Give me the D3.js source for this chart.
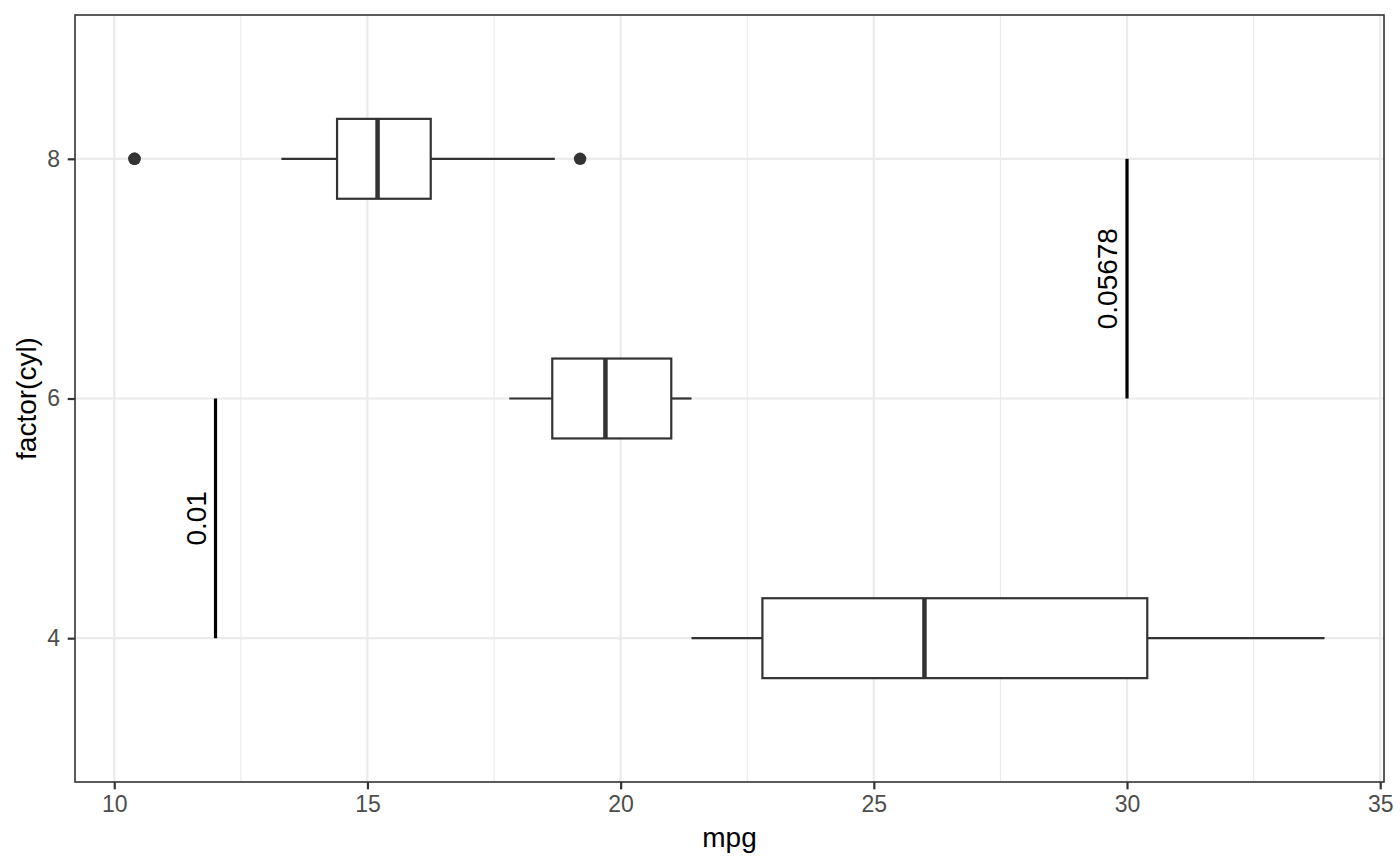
<!DOCTYPE html>
<html>
<head>
<meta charset="utf-8">
<script src="https://cdn.jsdelivr.net/npm/d3@7"></script>
<style>
  body { margin: 0; background: #fff; }
  text { font-family: "Liberation Sans", Arial, sans-serif; }
</style>
</head>
<body>
<div id="chart"></div>
<script>
// boxplot stats of mpg per cylinder group
var categories = ["4", "6", "8"];
var lowerWhisker = [21.4, 17.8, 13.3];
var q1 = [22.8, 18.65, 14.4];
var median = [26.0, 19.7, 15.2];
var q3 = [30.4, 21.0, 16.25];
var upperWhisker = [33.9, 21.4, 18.7];
var outliers = [[], [], [10.4, 10.4, 19.2]];

// annotation brackets
var annotX = [12, 30];
var annotFrom = ["6", "8"];
var annotTo = ["4", "6"];
var annotLabel = ["0.01", "0.05678"];

var xTicks = [10, 15, 20, 25, 30, 35];
var xMinor = [12.5, 17.5, 22.5, 27.5, 32.5];

function drawChart() {
    var width = 1400, height = 866;
    var margin = {left: 75, right: 16, top: 15, bottom: 84};
    var pw = width - margin.left - margin.right;
    var ph = height - margin.top - margin.bottom;

    var svg = d3.select("#chart").append("svg")
        .attr("width", width)
        .attr("height", height);

    var g = svg.append("g")
        .attr("transform", "translate(" + margin.left + "," + margin.top + ")");

    var x = d3.scaleLinear().domain([9.225, 35.075]).range([0, pw]);
    // discrete positions 1..3 with 0.6 expansion
    var yPos = d3.scaleLinear().domain([0.4, 3.6]).range([ph, 0]);
    var y = function(c) { return yPos(categories.indexOf(c) + 1); };
    var boxH = yPos(0) - yPos(1 / 3);

    // grid
    g.selectAll(".minor").data(xMinor).enter().append("line")
        .attr("x1", d => x(d)).attr("x2", d => x(d))
        .attr("y1", 0).attr("y2", ph)
        .style("stroke", "#ebebeb").style("stroke-width", 1.1);
    g.selectAll(".major").data(xTicks).enter().append("line")
        .attr("x1", d => x(d)).attr("x2", d => x(d))
        .attr("y1", 0).attr("y2", ph)
        .style("stroke", "#ebebeb").style("stroke-width", 2.2);
    g.selectAll(".hmajor").data(categories).enter().append("line")
        .attr("x1", 0).attr("x2", pw)
        .attr("y1", d => y(d)).attr("y2", d => y(d))
        .style("stroke", "#ebebeb").style("stroke-width", 2.2);

    // boxplots
    var boxes = g.selectAll(".box").data(categories).enter().append("g");

    boxes.append("line")
        .attr("x1", (d, i) => x(lowerWhisker[i])).attr("x2", (d, i) => x(q1[i]))
        .attr("y1", d => y(d)).attr("y2", d => y(d))
        .style("stroke", "#333").style("stroke-width", 2.2);
    boxes.append("line")
        .attr("x1", (d, i) => x(q3[i])).attr("x2", (d, i) => x(upperWhisker[i]))
        .attr("y1", d => y(d)).attr("y2", d => y(d))
        .style("stroke", "#333").style("stroke-width", 2.2);
    boxes.append("rect")
        .attr("x", (d, i) => x(q1[i]))
        .attr("width", (d, i) => x(q3[i]) - x(q1[i]))
        .attr("y", d => y(d) - boxH / 2)
        .attr("height", boxH)
        .style("fill", "#fff").style("stroke", "#333").style("stroke-width", 2.2);
    boxes.append("line")
        .attr("x1", (d, i) => x(median[i])).attr("x2", (d, i) => x(median[i]))
        .attr("y1", d => y(d) - boxH / 2).attr("y2", d => y(d) + boxH / 2)
        .style("stroke", "#333").style("stroke-width", 4.5);
    boxes.each(function(d, i) {
        d3.select(this).selectAll("circle").data(outliers[i]).enter().append("circle")
            .attr("cx", v => x(v)).attr("cy", y(d)).attr("r", 6.2)
            .style("fill", "#333");
    });

    // annotations
    var ann = g.selectAll(".ann").data(annotLabel).enter().append("g");
    ann.append("line")
        .attr("x1", (d, i) => x(annotX[i])).attr("x2", (d, i) => x(annotX[i]))
        .attr("y1", (d, i) => y(annotFrom[i])).attr("y2", (d, i) => y(annotTo[i]))
        .style("stroke", "#000").style("stroke-width", 3.2);
    ann.append("text")
        .attr("transform", (d, i) => "translate(" + (x(annotX[i]) - 10) + "," +
            ((y(annotFrom[i]) + y(annotTo[i])) / 2) + ") rotate(-90)")
        .attr("text-anchor", "middle")
        .style("font-size", "28px").style("fill", "#000")
        .text(d => d);

    // panel border
    g.append("rect")
        .attr("width", pw).attr("height", ph)
        .style("fill", "none").style("stroke", "#333").style("stroke-width", 1.6);

    // axes
    var xAxis = g.append("g")
        .attr("transform", "translate(0," + ph + ")")
        .call(d3.axisBottom(x).tickValues(xTicks).tickSize(7.3).tickPadding(6.7));
    var yAxis = g.append("g")
        .call(d3.axisLeft(yPos).tickValues([1, 2, 3])
            .tickFormat(d => categories[d - 1]).tickSize(7.3).tickPadding(7.7));

    [xAxis, yAxis].forEach(function(a) {
        a.select(".domain").remove();
        a.selectAll(".tick line").style("stroke", "#333").style("stroke-width", 2.2);
        a.selectAll(".tick text")
            .style("font-size", "23px").style("fill", "#4d4d4d")
            .style("font-family", "'Liberation Sans', Arial, sans-serif");
    });

    // axis titles
    svg.append("text")
        .attr("x", margin.left + pw / 2).attr("y", 847)
        .attr("text-anchor", "middle")
        .style("font-size", "28px").style("fill", "#000")
        .text("mpg");
    svg.append("text")
        .attr("transform", "translate(36," + (margin.top + ph / 2) + ") rotate(-90)")
        .attr("text-anchor", "middle")
        .style("font-size", "28px").style("fill", "#000")
        .text("factor(cyl)");
}

drawChart();
</script>
</body>
</html>
